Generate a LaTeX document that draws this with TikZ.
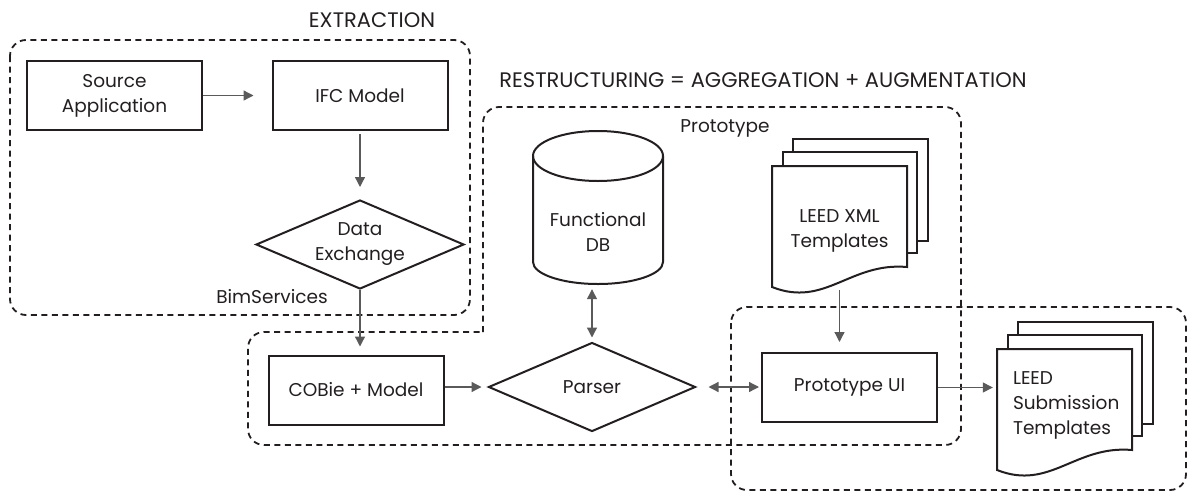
\documentclass[tikz,border=0pt]{standalone}
\usepackage{fontspec}
\setmainfont{Poppins}
\usetikzlibrary{arrows.meta,shapes.geometric}
\definecolor{ink}{RGB}{35,31,32}
\definecolor{arr}{RGB}{90,90,90}
\begin{document}
\begin{tikzpicture}[x=1pt,y=-1pt,
  font=\fontsize{18.5}{25}\selectfont, text=ink,
  box/.style={draw=ink, line width=2pt, minimum width=175pt, minimum height=69pt, inner sep=0pt, align=center},
  dia/.style={diamond, draw=ink, line width=2pt, minimum width=208pt, minimum height=89pt, inner sep=0pt, align=center, aspect=2.34},
  region/.style={draw=ink, line width=1.8pt, dash pattern=on 6pt off 4.5pt, rounded corners=16pt},
  conn/.style={draw=arr, line width=1.3pt, -{Triangle[length=10pt,width=10pt]}},
  biconn/.style={draw=arr, line width=1.3pt, {Triangle[length=10pt,width=10pt]}-{Triangle[length=10pt,width=10pt]}},
  sheet/.style={draw=ink, line width=2pt, fill=white},
  lbl/.style={inner sep=0pt},
  caplbl/.style={inner sep=0pt, font=\fontsize{21}{25}\selectfont},
  docstack/.pic={
    \draw[sheet] (21,-27) rectangle (156,75);
    \draw[sheet] (11,-14) rectangle (145,87);
    \draw[sheet] (0,0) -- (135,0) -- (135,101) .. controls (78,96) and (53,142) .. (0,121) -- cycle;
  }
]
\useasboundingbox (0,0) rectangle (1189,493);

% dashed regions
\draw[region] (10,40) rectangle (470,315);
\draw[region] (483,332) -- (483,107) -- (961,107) -- (961,445) -- (248,445) -- (248,332) -- (483,332);
\draw[region] (731,307) rectangle (1186,490);

% region labels
\node[caplbl] (lext) at (372,20) {EXTRACTION};
\node[lbl] (lbim) at (272,297) {BimServices};
\node[lbl] (lproto) at (725,128) {Prototype};
\node[caplbl] (lrest) at (763,80) {RESTRUCTURING = AGGREGATION + AUGMENTATION};

% boxes
\node[box] (src) at (114.5,95.5) {Source\\Application};
\node[box] (ifc) at (360,95.5) {IFC Model};
\node[dia] (dx) at (360,244.5) {Data\\Exchange};
\node[box] (cobie) at (356,390) {COBie + Model};
\node[dia, minimum width=207pt] (parser) at (592,387) {Parser};
\node[box] (ui) at (849.5,387.5) {Prototype UI};

% database cylinder
\draw[ink, line width=2pt] (598,156) ellipse [x radius=65pt, y radius=25pt];
\draw[ink, line width=2pt] (533,156) -- (533,262) arc[start angle=180, end angle=360, x radius=65pt, y radius=22pt] -- (663,156);
\node[minimum width=130pt, minimum height=104pt, inner sep=0pt, align=center] (db) at (598,232) {Functional\\DB};

% document stacks
\pic at (772,166) {docstack};
\pic at (997,349) {docstack};
\node[minimum width=135pt, minimum height=112pt, inner sep=0pt, align=center] (xml) at (839.5,231) {LEED XML\\Templates};
\node[minimum width=135pt, minimum height=112pt, inner sep=0pt, align=left, text width=103pt] (sub) at (1064.5,405) {LEED\\Submission\\Templates};

% connectors
\draw[conn, shorten >=18pt] (src.east) -- (ifc.west);
\draw[conn, shorten <=3pt, shorten >=12pt] (ifc.south) -- (dx.north);
\draw[conn, shorten >=8pt] (dx.south) -- (dx.south |- cobie.north);
\draw[conn, shorten >=6pt] (parser.west -| cobie.east) -- (parser.west);
\draw[biconn, shorten <=5pt, shorten >=4pt] (parser.north |- db.south) -- (parser.north);
\draw[biconn, shorten <=12pt, shorten >=2pt] (parser.east) -- (parser.east -| ui.west);
\draw[conn, shorten <=3pt, shorten >=10pt] (xml.south) -- (xml.south |- ui.north);
\draw[conn, shorten >=4pt] (ui.east) -- (ui.east -| sub.west);
\end{tikzpicture}
\end{document}
